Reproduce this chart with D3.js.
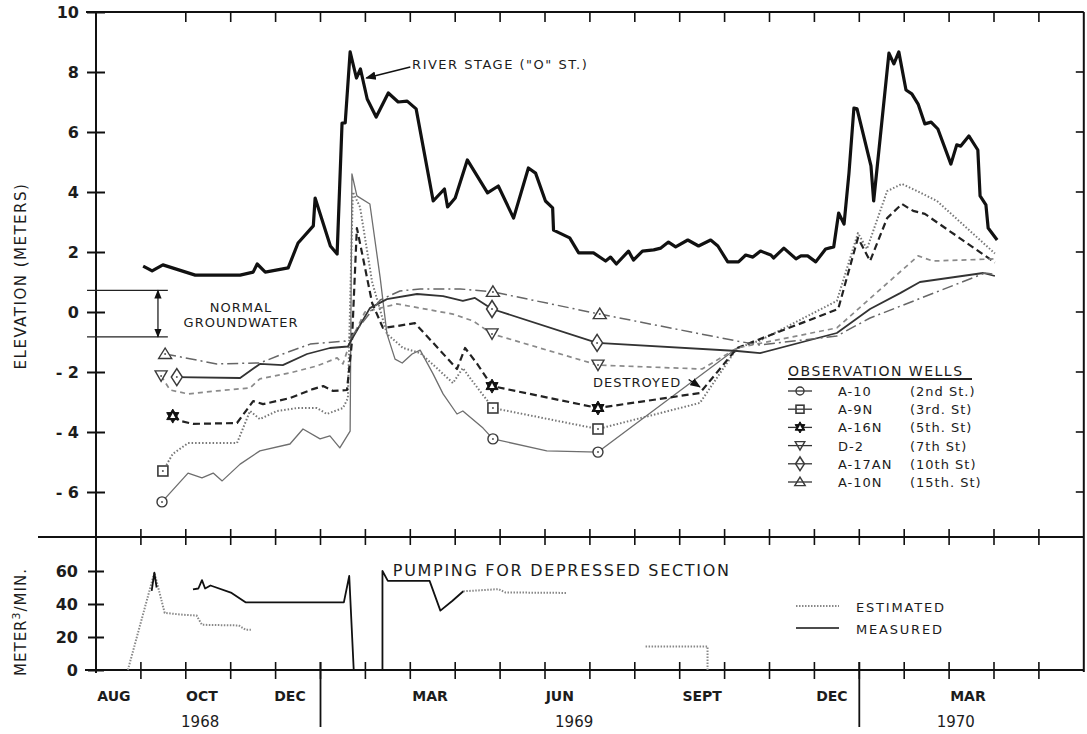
<!DOCTYPE html>
<html>
<head>
<meta charset="utf-8">
<script src="https://cdn.jsdelivr.net/npm/d3@7/dist/d3.min.js"></script>
<style>
body { margin: 0; background: #fff; }
text { font-family: 'DejaVu Sans', sans-serif; fill: #1c1c1c; }
</style>
</head>
<body>
<div id="chart"></div>
<script>
//x values are months counted from 1 Aug 1968, y values in meters or m3/min
var riverStage = [[1.05,1.53],[1.25,1.37],[1.49,1.57],[2.21,1.23],[3.21,1.23],[3.50,1.33],[3.59,1.6],[3.77,1.33],[4.28,1.47],
	[4.50,2.3],[4.84,2.87],[4.88,3.8],[5.22,2.2],[5.37,1.93],[5.48,6.3],[5.55,6.3],[5.66,8.67],[5.80,7.8],[5.89,8.1],
	[6.04,7.1],[6.24,6.5],[6.51,7.3],[6.73,7.0],[6.93,7.03],[7.13,6.77],[7.51,3.7],[7.76,4.1],[7.83,3.5],[8.00,3.8],
	[8.27,5.07],[8.72,3.97],[8.96,4.2],[9.30,3.13],[9.63,4.8],[9.79,4.63],[10.01,3.7],[10.17,3.47],[10.19,2.73],
	[10.55,2.47],[10.75,1.97],[11.08,1.97],[11.35,1.7],[11.46,1.83],[11.59,1.6],[11.86,2.03],[11.97,1.73],[12.17,2.03],
	[12.42,2.07],[12.58,2.13],[12.75,2.33],[12.91,2.17],[13.18,2.4],[13.42,2.2],[13.69,2.4],[13.85,2.2],[14.07,1.67],
	[14.31,1.67],[14.47,1.9],[14.63,1.83],[14.80,2.03],[15.03,1.9],[15.09,1.8],[15.32,2.13],[15.59,1.77],[15.70,1.87],
	[15.85,1.87],[16.03,1.67],[16.25,2.1],[16.43,2.17],[16.54,3.3],[16.66,2.93],[16.77,4.63],[16.88,6.8],[16.95,6.77],
	[17.26,4.87],[17.32,3.7],[17.66,8.63],[17.77,8.27],[17.88,8.67],[18.04,7.4],[18.17,7.27],[18.31,6.93],[18.46,6.27],
	[18.60,6.33],[18.75,6.1],[19.04,4.93],[19.17,5.57],[19.26,5.53],[19.44,5.87],[19.64,5.4],[19.69,3.87],[19.82,3.57],
	[19.87,2.8],[20.07,2.4]];

//third item = 1 where the well symbol is drawn
var wellA10 = [[1.47,-6.33,1],[2.05,-5.37],[2.36,-5.53],[2.61,-5.37],[2.81,-5.63],[3.21,-5.07],[3.65,-4.63],[4.32,-4.4],
	[4.61,-3.9],[4.99,-4.23],[5.21,-4.13],[5.43,-4.53],[5.66,-3.97],[5.70,4.6],[5.81,3.87],[6.10,3.6],[6.33,1.13],
	[6.48,-0.73],[6.66,-1.57],[6.82,-1.7],[7.04,-1.4],[7.22,-1.27],[7.51,-2.07],[7.73,-2.73],[8.04,-3.4],[8.17,-3.3],
	[8.62,-3.87],[8.84,-4.23,1],[10.04,-4.63],[11.18,-4.67,1],[14.28,-1.2]];
var wellA9N = [[1.49,-5.3,1],[1.71,-4.73],[2.05,-4.37],[3.14,-4.37],[3.43,-3.3],[3.65,-3.57],[4.03,-3.3],[4.48,-3.2],
	[4.92,-3.2],[5.14,-3.4],[5.50,-3.2],[5.61,-2.87],[5.72,4.0],[5.88,3.5],[6.15,1.0],[6.48,-0.73],[6.84,-1.2],
	[7.22,-1.37],[7.59,-1.87],[7.95,-2.37],[8.17,-1.87],[8.33,-2.2],[8.84,-3.2,1],[11.18,-3.9,1],[13.45,-3.03],
	[14.28,-1.2],[14.79,-0.95],[16.50,0.37],[16.97,2.63],[17.17,2.1],[17.62,4.03],[17.95,4.27],[18.29,4.03],
	[18.73,3.7],[20.02,1.95]];
var wellA16N = [[1.71,-3.47,1],[1.87,-3.63],[2.16,-3.73],[3.14,-3.7],[3.50,-2.97],[3.72,-3.07],[4.32,-2.87],[4.83,-2.57],
	[5.06,-2.47],[5.28,-2.63],[5.59,-2.6],[5.70,-1.0],[5.81,2.8],[5.92,2.0],[6.15,0.3],[6.39,-0.53],[6.70,-0.47],
	[7.10,-0.37],[7.51,-1.03],[8.04,-1.9],[8.22,-1.2],[8.49,-1.73],[8.82,-2.47,1],[11.18,-3.2,1],[13.45,-2.7],
	[14.28,-1.2],[14.79,-0.9],[16.53,0.1],[16.97,2.47],[17.24,1.7],[17.62,3.13],[17.95,3.6],[18.20,3.37],
	[18.46,3.27],[20.02,1.65]];
var wellD2 = [[1.45,-2.13,1],[1.65,-2.6],[2.05,-2.73],[2.69,-2.63],[3.43,-2.53],[3.65,-2.23],[4.32,-2.03],[4.92,-1.8],
	[5.37,-1.53],[5.50,-1.73],[5.66,-1.0],[5.99,0.0],[6.33,0.13],[6.70,0.27],[7.22,0.13],[7.95,-0.07],[8.40,-0.3],
	[8.82,-0.73,1],[11.18,-1.77,1],[13.50,-1.9],[14.28,-1.2],[16.50,-0.53],[18.31,1.87],[18.64,1.7],[20.02,1.77]];
var wellA17AN = [[1.80,-2.17,1],[3.21,-2.2],[3.65,-1.73],[4.16,-1.77],[4.70,-1.4],[5.21,-1.2],[5.61,-1.15],[5.70,-0.9],
	[6.10,0.13],[6.48,0.43],[7.15,0.6],[7.73,0.53],[8.17,0.37],[8.44,0.47],[8.82,0.1,1],[11.16,-1.03,1],[14.28,-1.3],
	[14.79,-1.37],[16.50,-0.7],[17.24,0.1],[17.91,0.63],[18.35,1.0],[19.76,1.3],[20.02,1.2]];
var wellA10N = [[1.54,-1.4,1],[2.69,-1.73],[3.65,-1.7],[4.16,-1.4],[4.77,-1.07],[5.55,-0.97],[5.70,-0.8],[6.33,0.4],
	[6.77,0.7],[7.22,0.77],[8.11,0.77],[8.84,0.67,1],[11.22,-0.07,1],[14.28,-0.97],[14.79,-1.1],[16.50,-0.8],
	[17.24,-0.2],[19.80,1.3],[20.02,1.25]];

var wellNames = ['A-10', 'A-9N', 'A-16N', 'D-2', 'A-17AN', 'A-10N'];
var wellStreets = ['(2nd St.)', '(3rd. St)', '(5th. St)', '(7th St)', '(10th St)', '(15th. St)'];

//pumping for depressed section, m3/min
var pumpEstimated = [
	[[0.71,0],[1.30,59],[1.53,34.6],[1.93,33.5],[2.24,33],[2.36,27.4],[3.18,27],[3.33,24.4],[3.45,24.4]],
	[[8.18,47.7],[8.96,49],[9.12,47],[10.5,46.7]],
	[[12.24,14.2],[13.62,14.2],[13.62,0]]
];
var pumpMeasured = [
	[[1.24,48],[1.30,59],[1.35,50]],
	[[2.16,48.8],[2.28,49.4],[2.36,54.5],[2.43,49.4],[2.55,51.2],[3.02,46.7],[3.33,41],[5.52,41],[5.64,57],[5.74,0]],
	[[6.38,0],[6.38,60],[6.50,54],[7.43,54],[7.67,36],[7.94,42],[8.18,47.7]]
];

var elevTicks = [10, 8, 6, 4, 2, 0, -2, -4, -6];
var pumpTicks = [60, 40, 20, 0];
var monthLabels = ['AUG', 'OCT', 'DEC', 'MAR', 'JUN', 'SEPT', 'DEC', 'MAR'];
var monthLabelAt = [0.40, 2.36, 4.32, 7.44, 10.33, 13.5, 16.39, 19.42];
var yearLabels = ['1968', '1969', '1970'];
var yearLabelAt = [2.32, 10.65, 19.15];
var yearBreaks = [5, 17];

var width = 1087,
	height = 734;

var svg = d3
	.select('#chart')
	.append('svg')
	.attr('width', width)
	.attr('height', height);

//arrow heads
var defs = svg.append('defs');
defs
	.append('marker')
	.attr('id', 'head')
	.attr('viewBox', '0 0 10 10')
	.attr('refX', 9)
	.attr('refY', 5)
	.attr('markerWidth', 7)
	.attr('markerHeight', 7)
	.attr('orient', 'auto-start-reverse')
	.append('path')
	.attr('d', 'M0,1 L10,5 L0,9 z')
	.attr('fill', '#111');

//scales
var x = d3.scaleLinear().domain([0, 22]).range([96, 96 + 22 * 44.9]);
var yTop = d3.scaleLinear().domain([-7.5, 10]).range([537, 12]);
var yBot = d3.scaleLinear().domain([0, 80]).range([670, 538]);

var axisColor = '#111';

//frame lines
svg.append('line').attr('x1', x(0) - 10).attr('x2', x(22)).attr('y1', yTop(10)).attr('y2', yTop(10))
	.attr('stroke', axisColor).attr('stroke-width', 2);
svg.append('line').attr('x1', 38).attr('x2', x(22)).attr('y1', yTop(-7.5)).attr('y2', yTop(-7.5))
	.attr('stroke', axisColor).attr('stroke-width', 2);
svg.append('line').attr('x1', x(0) - 11).attr('x2', x(22)).attr('y1', yBot(0)).attr('y2', yBot(0))
	.attr('stroke', axisColor).attr('stroke-width', 2);
svg.append('line').attr('x1', x(0)).attr('x2', x(0)).attr('y1', yTop(10)).attr('y2', yBot(0) + 3)
	.attr('stroke', axisColor).attr('stroke-width', 2);
svg.append('line').attr('x1', x(22)).attr('x2', x(22)).attr('y1', yTop(10)).attr('y2', yBot(0) + 2)
	.attr('stroke', axisColor).attr('stroke-width', 2);

//left axis, upper panel
var leftAxis = svg
	.append('g')
	.attr('transform', 'translate(' + x(0) + ',0)')
	.call(d3.axisLeft(yTop).tickValues(elevTicks).tickSize(9).tickPadding(8).tickFormat(function(d) {
		return d < 0 ? '- ' + Math.abs(d) : d;
	}));
leftAxis.select('.domain').remove();
leftAxis.selectAll('.tick line').attr('x1', -9).attr('x2', 9).attr('stroke', axisColor).attr('stroke-width', 2);
leftAxis.selectAll('.tick text').style('font-size', '16px').style('font-weight', 'bold').attr('fill', '#1c1c1c')
	.style('font-family', "'DejaVu Sans', sans-serif");

//right inward ticks
svg
	.append('g')
	.selectAll('line')
	.data(elevTicks.filter(function(d) { return d < 10; }))
	.enter()
	.append('line')
	.attr('x1', x(22) - 8)
	.attr('x2', x(22))
	.attr('y1', function(d) { return yTop(d); })
	.attr('y2', function(d) { return yTop(d); })
	.attr('stroke', axisColor)
	.attr('stroke-width', 1.6);

//month ticks
var months = d3.range(1, 22);
svg.append('g').selectAll('line').data(months.filter(function(d) { return d > 1; })).enter().append('line')
	.attr('x1', function(d) { return x(d); }).attr('x2', function(d) { return x(d); })
	.attr('y1', yTop(10)).attr('y2', yTop(10) + 10)
	.attr('stroke', axisColor).attr('stroke-width', 1.6);
svg.append('g').selectAll('line').data(months).enter().append('line')
	.attr('x1', function(d) { return x(d); }).attr('x2', function(d) { return x(d); })
	.attr('y1', yTop(-7.5) - 8).attr('y2', yTop(-7.5) + 8)
	.attr('stroke', axisColor).attr('stroke-width', 1.6);
svg.append('g').selectAll('line').data(months).enter().append('line')
	.attr('x1', function(d) { return x(d); }).attr('x2', function(d) { return x(d); })
	.attr('y1', yBot(0) - 8).attr('y2', yBot(0) + 9)
	.attr('stroke', axisColor).attr('stroke-width', 1.6);

//year dividers
svg.append('g').selectAll('line').data(yearBreaks).enter().append('line')
	.attr('x1', function(d) { return x(d); }).attr('x2', function(d) { return x(d); })
	.attr('y1', yBot(0) - 8).attr('y2', 727)
	.attr('stroke', axisColor).attr('stroke-width', 1.8);

//left axis, lower panel
var lowAxis = svg
	.append('g')
	.attr('transform', 'translate(' + x(0) + ',0)')
	.call(d3.axisLeft(yBot).tickValues(pumpTicks).tickSize(8).tickPadding(10));
lowAxis.select('.domain').remove();
lowAxis.selectAll('.tick line').attr('x1', -8).attr('x2', 8).attr('stroke', axisColor).attr('stroke-width', 2);
lowAxis.selectAll('.tick text').style('font-size', '16px').style('font-weight', 'bold').attr('fill', '#1c1c1c')
	.style('font-family', "'DejaVu Sans', sans-serif");

//month and year labels
svg.append('g').selectAll('text').data(monthLabels).enter().append('text')
	.attr('x', function(d, i) { return x(monthLabelAt[i]); })
	.attr('y', 701)
	.attr('text-anchor', 'middle')
	.style('font-size', '14px')
	.style('font-weight', 'bold')
	.text(function(d) { return d; });
svg.append('g').selectAll('text').data(yearLabels).enter().append('text')
	.attr('x', function(d, i) { return x(yearLabelAt[i]); })
	.attr('y', 727)
	.attr('text-anchor', 'middle')
	.style('font-size', '15px')
	.text(function(d) { return d; });

//axis titles
svg.append('text').attr('transform', 'translate(26,276) rotate(-90)').attr('text-anchor', 'middle')
	.style('font-size', '15px').style('letter-spacing', '1.5px').text('ELEVATION (METERS)');
svg.append('text').attr('transform', 'translate(26,622) rotate(-90)').attr('text-anchor', 'middle')
	.style('font-size', '15px').style('letter-spacing', '1px')
	.html('METER<tspan dy="-6" font-size="11px">3</tspan><tspan dy="6">/MIN.</tspan>');

//river stage
var lineTop = d3.line()
	.x(function(d) { return x(d[0]); })
	.y(function(d) { return yTop(d[1]); });

svg.append('path').datum(riverStage).attr('fill', 'none').attr('stroke', '#111').attr('stroke-width', 3.2)
	.attr('stroke-linejoin', 'round').attr('d', lineTop);

//observation wells
var wells = [
	{ data: wellA10, symbol: 'circle', stroke: '#6e6e6e', width: 1.3, dash: null },
	{ data: wellA9N, symbol: 'square', stroke: '#777', width: 2, dash: '1.5,2' },
	{ data: wellA16N, symbol: 'hexagram', stroke: '#222', width: 2.2, dash: '7,4' },
	{ data: wellD2, symbol: 'downTri', stroke: '#8a8a8a', width: 1.7, dash: '5,4' },
	{ data: wellA17AN, symbol: 'diamond', stroke: '#333', width: 1.8, dash: null },
	{ data: wellA10N, symbol: 'upTri', stroke: '#666', width: 1.5, dash: '11,4,2,4' }
];

wells.forEach(function(w) {
	svg.append('path').datum(w.data).attr('fill', 'none').attr('stroke', w.stroke).attr('stroke-width', w.width)
		.attr('stroke-dasharray', w.dash).attr('stroke-linejoin', 'round').attr('d', lineTop);
});

function drawSymbol(g, type, cx, cy, s, fill) {
	var c = '#3a3a3a';
	if (type == 'circle') {
		g.append('circle').attr('cx', cx).attr('cy', cy).attr('r', 5 * s).attr('fill', fill).attr('stroke', c).attr('stroke-width', 1.4);
	} else if (type == 'square') {
		g.append('rect').attr('x', cx - 5 * s).attr('y', cy - 5 * s).attr('width', 10 * s).attr('height', 10 * s)
			.attr('fill', fill).attr('stroke', c).attr('stroke-width', 1.6);
	} else if (type == 'hexagram') {
		var r = 7 * s, p1 = [], p2 = [];
		[-90, 30, 150].forEach(function(a) { p1.push([cx + r * Math.cos(a * Math.PI / 180), cy + r * Math.sin(a * Math.PI / 180)]); });
		[90, 210, 330].forEach(function(a) { p2.push([cx + r * Math.cos(a * Math.PI / 180), cy + r * Math.sin(a * Math.PI / 180)]); });
		g.append('path').attr('d', 'M' + p1.join('L') + 'Z M' + p2.join('L') + 'Z').attr('fill', '#111').attr('stroke', '#111');
		g.append('path').attr('d', 'M' + cx + ',' + (cy - 3 * s) + 'L' + (cx + 2.6 * s) + ',' + (cy + 2 * s) + 'L' + (cx - 2.6 * s) + ',' + (cy + 2 * s) + 'Z')
			.attr('fill', '#fff');
		return;
	} else if (type == 'downTri') {
		g.append('path').attr('d', 'M' + (cx - 6 * s) + ',' + (cy - 5 * s) + 'L' + (cx + 6 * s) + ',' + (cy - 5 * s) + 'L' + cx + ',' + (cy + 5.5 * s) + 'Z')
			.attr('fill', fill).attr('stroke', c).attr('stroke-width', 1.4);
	} else if (type == 'diamond') {
		g.append('path').attr('d', 'M' + cx + ',' + (cy - 8.5 * s) + 'L' + (cx + 5.5 * s) + ',' + cy + 'L' + cx + ',' + (cy + 8.5 * s) + 'L' + (cx - 5.5 * s) + ',' + cy + 'Z')
			.attr('fill', fill).attr('stroke', c).attr('stroke-width', 1.5);
	} else if (type == 'upTri') {
		g.append('path').attr('d', 'M' + cx + ',' + (cy - 6 * s) + 'L' + (cx + 6.5 * s) + ',' + (cy + 4.5 * s) + 'L' + (cx - 6.5 * s) + ',' + (cy + 4.5 * s) + 'Z')
			.attr('fill', fill).attr('stroke', c).attr('stroke-width', 1.4);
	}
	if (fill != 'none') g.append('circle').attr('cx', cx).attr('cy', cy).attr('r', 1).attr('fill', '#555');
}

var symG = svg.append('g');
wells.forEach(function(w) {
	w.data.filter(function(d) { return d[2] == 1; }).forEach(function(d) {
		drawSymbol(symG, w.symbol, x(d[0]), yTop(d[1]), 1, '#fff');
	});
});

//annotations upper panel
svg.append('text').attr('x', x(7.04)).attr('y', yTop(8.27) + 5).style('font-size', '13px').style('letter-spacing', '1.5px')
	.text('RIVER STAGE ("O" ST.)');
svg.append('line').attr('x1', x(7.0)).attr('y1', yTop(8.17)).attr('x2', x(6.02)).attr('y2', yTop(7.8))
	.attr('stroke', '#111').attr('stroke-width', 1.5).attr('marker-end', 'url(#head)');

svg.append('line').attr('x1', x(-0.2)).attr('x2', x(1.6)).attr('y1', yTop(0.72)).attr('y2', yTop(0.72)).attr('stroke', '#222').attr('stroke-width', 1.3);
svg.append('line').attr('x1', x(-0.2)).attr('x2', x(1.6)).attr('y1', yTop(-0.83)).attr('y2', yTop(-0.83)).attr('stroke', '#222').attr('stroke-width', 1.3);
svg.append('line').attr('x1', x(1.38)).attr('x2', x(1.38)).attr('y1', yTop(0.72)).attr('y2', yTop(-0.83))
	.attr('stroke', '#222').attr('stroke-width', 1.3).attr('marker-start', 'url(#head)').attr('marker-end', 'url(#head)');
svg.append('text').attr('x', x(3.23)).attr('y', yTop(0.17) + 5).attr('text-anchor', 'middle').style('font-size', '13px')
	.style('letter-spacing', '1px').text('NORMAL');
svg.append('text').attr('x', x(3.23)).attr('y', yTop(-0.33) + 5).attr('text-anchor', 'middle').style('font-size', '13px')
	.style('letter-spacing', '1px').text('GROUNDWATER');

svg.append('text').attr('x', x(11.07)).attr('y', yTop(-2.33) + 5).style('font-size', '13px').style('letter-spacing', '1px')
	.text('DESTROYED');
svg.append('line').attr('x1', x(13.2)).attr('y1', yTop(-2.25)).attr('x2', x(13.45)).attr('y2', yTop(-2.5))
	.attr('stroke', '#111').attr('stroke-width', 1.5).attr('marker-end', 'url(#head)');

//legend observation wells
var leg = svg.append('g').attr('transform', 'translate(788,0)');
leg.append('text').attr('x', 0).attr('y', 376).style('font-size', '14px').style('letter-spacing', '1.5px').text('OBSERVATION  WELLS');
leg.append('line').attr('x1', 0).attr('x2', 184).attr('y1', 379).attr('y2', 379).attr('stroke', '#222').attr('stroke-width', 2);
wellNames.forEach(function(n, i) {
	var yy = 391 + i * 18.2;
	leg.append('line').attr('x1', 0).attr('x2', 24).attr('y1', yy).attr('y2', yy).attr('stroke', '#333').attr('stroke-width', 1.3);
	drawSymbol(leg, wells[i].symbol, 12, yy, 0.8, 'none');
	leg.append('text').attr('x', 50).attr('y', yy + 5).style('font-size', '13px').style('letter-spacing', '1px').text(n);
	leg.append('text').attr('x', 122).attr('y', yy + 5).style('font-size', '13px').style('letter-spacing', '1px').text(wellStreets[i]);
});

//pumping panel
var lineBot = d3.line()
	.x(function(d) { return x(d[0]); })
	.y(function(d) { return yBot(d[1]); });

svg.append('g').selectAll('path').data(pumpEstimated).enter().append('path')
	.attr('fill', 'none').attr('stroke', '#888').attr('stroke-width', 2).attr('stroke-dasharray', '1.5,1.5').attr('d', lineBot);
svg.append('g').selectAll('path').data(pumpMeasured).enter().append('path')
	.attr('fill', 'none').attr('stroke', '#111').attr('stroke-width', 1.8).attr('stroke-linejoin', 'round').attr('d', lineBot);

svg.append('text').attr('x', x(6.61)).attr('y', 576).style('font-size', '16px').style('letter-spacing', '1.7px')
	.text('PUMPING FOR DEPRESSED SECTION');

svg.append('line').attr('x1', 796).attr('x2', 839).attr('y1', 606).attr('y2', 606)
	.attr('stroke', '#888').attr('stroke-width', 2).attr('stroke-dasharray', '1.5,1.5');
svg.append('text').attr('x', 856).attr('y', 612).style('font-size', '13px').style('letter-spacing', '1.8px').text('ESTIMATED');
svg.append('line').attr('x1', 796).attr('x2', 839).attr('y1', 628).attr('y2', 628).attr('stroke', '#111').attr('stroke-width', 1.5);
svg.append('text').attr('x', 856).attr('y', 634).style('font-size', '13px').style('letter-spacing', '1.8px').text('MEASURED');
</script>
</body>
</html>
